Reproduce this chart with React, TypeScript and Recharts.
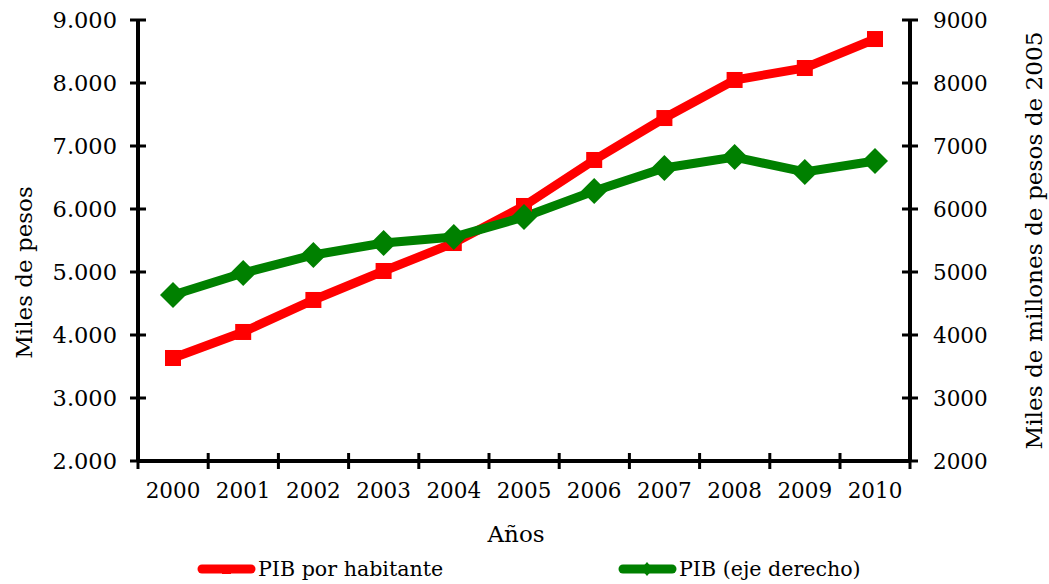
import React from 'react';
import { LineChart, Line, XAxis, YAxis, Legend } from 'recharts';

const years = ['2000', '2001', '2002', '2003', '2004', '2005', '2006', '2007', '2008', '2009', '2010'];
const pibHabitante = [3635, 4048, 4556, 5016, 5460, 6048, 6778, 7444, 8048, 8238, 8698];
const pibTotal = [4635, 4984, 5270, 5460, 5556, 5873, 6286, 6651, 6825, 6587, 6762];
const yTicks = [2000, 3000, 4000, 5000, 6000, 7000, 8000, 9000];
const seriesNames = ['PIB por habitante', 'PIB (eje derecho)'];

const data = years.map((y, i) => ({ year: y, hab: pibHabitante[i], pib: pibTotal[i] }));

const FONT = 'DejaVu Serif';
const RED = '#FF0000';
const GREEN = '#008000';
const HALF_BAND = 35;
const W = 1049;
const H = 584;

const fmtDot = (v: number) => `${Math.floor(v / 1000)}.${String(v % 1000).padStart(3, '0')}`;

const XTick = (props: any) => {
  const { x, y, payload, index } = props;
  return (
    <g>
      <line x1={x - HALF_BAND} x2={x - HALF_BAND} y1={y - 8} y2={y + 8} stroke="#000" strokeWidth={3} />
      {index === years.length - 1 && (
        <line x1={x + HALF_BAND} x2={x + HALF_BAND} y1={y - 8} y2={y + 8} stroke="#000" strokeWidth={3} />
      )}
      <text x={x} y={y + 37} textAnchor="middle" fontFamily={FONT} fontSize={21.5} fill="#000">
        {payload.value}
      </text>
    </g>
  );
};

const LeftTick = (props: any) => {
  const { x, y, payload } = props;
  return (
    <g>
      <line x1={x - 8} x2={x + 8} y1={y} y2={y} stroke="#000" strokeWidth={3} />
      <text x={x - 21} y={y} dy="0.36em" textAnchor="end" fontFamily={FONT} fontSize={22.5} fill="#000">
        {fmtDot(payload.value)}
      </text>
    </g>
  );
};

const RightTick = (props: any) => {
  const { x, y, payload } = props;
  return (
    <g>
      <line x1={x - 8} x2={x + 8} y1={y} y2={y} stroke="#000" strokeWidth={3} />
      <text x={x + 23} y={y} dy="0.36em" textAnchor="start" fontFamily={FONT} fontSize={21.5} fill="#000">
        {payload.value}
      </text>
    </g>
  );
};

const LeftLabel = (props: any) => {
  const vb = props.viewBox || {};
  const cx = vb.x + 24;
  const cy = vb.y + vb.height / 2 + 32;
  return (
    <text x={cx} y={cy} transform={`rotate(-90 ${cx} ${cy})`} textAnchor="middle" dy="0.36em"
      fontFamily={FONT} fontSize={23} fill="#000">
      Miles de pesos
    </text>
  );
};

const RightLabel = (props: any) => {
  const vb = props.viewBox || {};
  const cx = vb.x + vb.width - 15;
  const cy = vb.y + vb.height / 2;
  return (
    <text x={cx} y={cy} transform={`rotate(-90 ${cx} ${cy})`} textAnchor="middle" dy="0.36em"
      fontFamily={FONT} fontSize={23.2} fill="#000">
      Miles de millones de pesos de 2005
    </text>
  );
};

const XLabel = (props: any) => {
  const vb = props.viewBox || {};
  return (
    <text x={vb.x + vb.width / 2 - 8} y={vb.y + 81} textAnchor="middle"
      fontFamily={FONT} fontSize={23} fill="#000">
      Años
    </text>
  );
};

const SquareDot = (props: any) => {
  const { cx, cy, index } = props;
  if (cx == null || cy == null) return <g key={index} />;
  return <rect key={index} x={cx - 8} y={cy - 8} width={16} height={16} fill={RED} />;
};

const DiamondDot = (props: any) => {
  const { cx, cy, index } = props;
  if (cx == null || cy == null) return <g key={index} />;
  const r = 13;
  return (
    <polygon key={index} points={`${cx},${cy - r} ${cx + r},${cy} ${cx},${cy + r} ${cx - r},${cy}`} fill={GREEN} />
  );
};

const LegendContent = () => {
  const items = [
    { name: seriesNames[0], color: RED, left: 197, marker: 'square' },
    { name: seriesNames[1], color: GREEN, left: 618, marker: 'diamond' },
  ];
  return (
    <div style={{ position: 'relative', width: W, height: 30 }}>
      {items.map((it) => (
        <div key={it.name} style={{ position: 'absolute', left: it.left, top: 0, height: 30, display: 'flex', alignItems: 'center' }}>
          <svg width={60} height={30} style={{ display: 'block' }}>
            <line x1={5} x2={54} y1={15} y2={15} stroke={it.color} strokeWidth={9} strokeLinecap="round" />
            {it.marker === 'square' ? (
              <rect x={25} y={11} width={9} height={9} fill={it.color} />
            ) : (
              <polygon points="29,8 35,15 29,22 23,15" fill={it.color} />
            )}
          </svg>
          <span style={{ fontFamily: FONT, fontSize: 20.6, color: '#000', marginLeft: 1, whiteSpace: 'nowrap', lineHeight: '30px' }}>
            {it.name}
          </span>
        </div>
      ))}
    </div>
  );
};

export default function App() {
  return (
    <div style={{ position: 'absolute', left: 0, top: 0, width: W, height: H, background: '#fff' }}>
      <LineChart width={W} height={H} data={data} margin={{ top: 20, right: 0, bottom: 0, left: 0 }}>
        <XAxis
          dataKey="year"
          padding={{ left: HALF_BAND, right: HALF_BAND }}
          height={93}
          axisLine={{ stroke: '#000', strokeWidth: 4 }}
          tickLine={false}
          tickSize={0}
          tickMargin={0}
          tick={<XTick />}
          interval={0}
          label={<XLabel />}
        />
        <YAxis
          yAxisId="left"
          orientation="left"
          width={138}
          domain={[2000, 9000]}
          ticks={yTicks}
          type="number"
          allowDataOverflow
          axisLine={{ stroke: '#000', strokeWidth: 4 }}
          tickLine={false}
          tickSize={0}
          tickMargin={0}
          tick={<LeftTick />}
          interval={0}
          label={<LeftLabel />}
        />
        <YAxis
          yAxisId="right"
          orientation="right"
          width={139}
          domain={[2000, 9000]}
          ticks={yTicks}
          type="number"
          allowDataOverflow
          axisLine={{ stroke: '#000', strokeWidth: 4 }}
          tickLine={false}
          tickSize={0}
          tickMargin={0}
          tick={<RightTick />}
          interval={0}
          label={<RightLabel />}
        />
        <Legend verticalAlign="bottom" height={30} content={<LegendContent />} />
        <Line
          yAxisId="left"
          dataKey="hab"
          name={seriesNames[0]}
          stroke={RED}
          strokeWidth={9}
          dot={<SquareDot />}
          activeDot={false}
          isAnimationActive={false}
        />
        <Line
          yAxisId="right"
          dataKey="pib"
          name={seriesNames[1]}
          stroke={GREEN}
          strokeWidth={9}
          dot={<DiamondDot />}
          activeDot={false}
          isAnimationActive={false}
        />
      </LineChart>
    </div>
  );
}
